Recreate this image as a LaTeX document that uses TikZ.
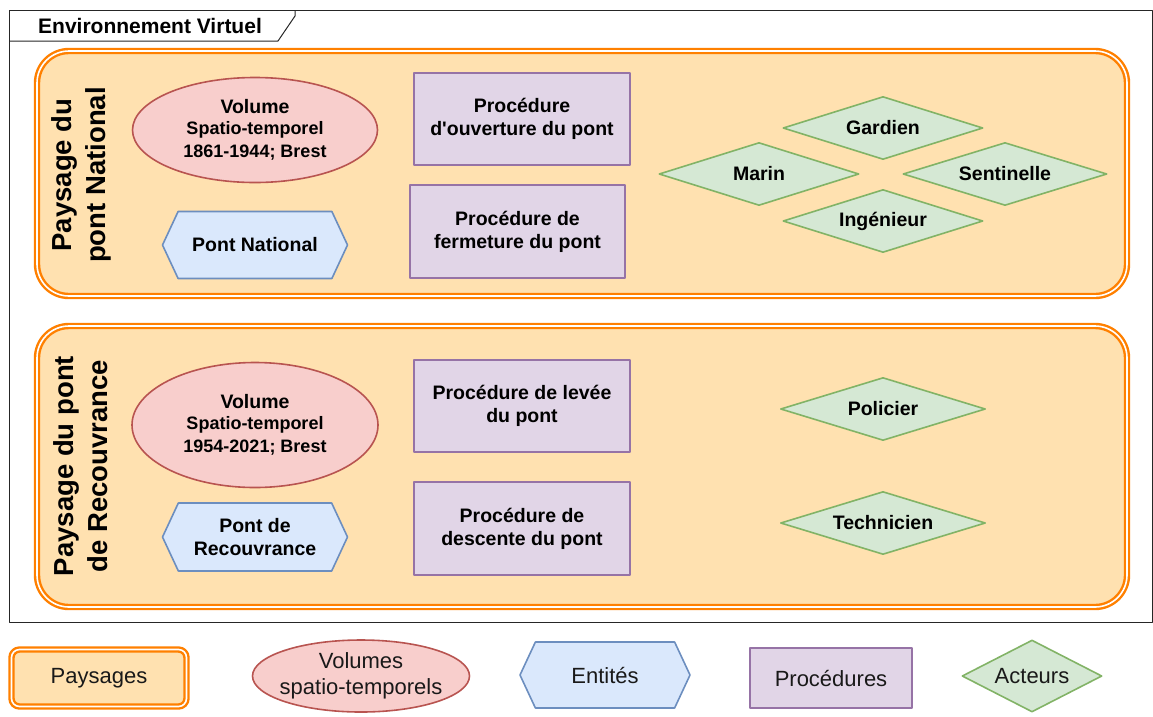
\documentclass[tikz,border=0pt]{standalone}
\usepackage{fontspec}
\setmainfont{Liberation Sans}
\usetikzlibrary{shapes.geometric,shapes.symbols}

\definecolor{paysFill}{HTML}{FFE1B0}
\definecolor{paysDraw}{HTML}{FF8000}
\definecolor{volFill}{HTML}{F8CECC}
\definecolor{volDraw}{HTML}{B85450}
\definecolor{entFill}{HTML}{DAE8FC}
\definecolor{entDraw}{HTML}{6C8EBF}
\definecolor{procFill}{HTML}{E1D5E7}
\definecolor{procDraw}{HTML}{9673A6}
\definecolor{actFill}{HTML}{D5E8D4}
\definecolor{actDraw}{HTML}{82B366}

\begin{document}
\begin{tikzpicture}[
			x=1pt, y=-1pt,
			line join=round,
			frame/.style={draw=black!85, line width=1pt},
			lbl/.style={font=\fontsize{19.5}{23}\selectfont\bfseries, align=center, text=black},
			leg/.style={font=\fontsize{22}{26}\selectfont, align=center, text=black!90},
			paysage/.style={draw=paysDraw, fill=paysFill, double=white, double distance=1.6pt, line width=2.4pt},
			volume/.style={ellipse, draw=volDraw, fill=volFill, line width=1.6pt, inner sep=0pt},
			entite/.style={signal, signal to=west and east, signal pointer angle=130, draw=entDraw, fill=entFill, line width=1.6pt, inner sep=0pt},
			proc/.style={rectangle, draw=procDraw, fill=procFill, line width=1.6pt, inner sep=0pt},
			acteur/.style={diamond, aspect=3.2, draw=actDraw, fill=actFill, line width=1.6pt, inner sep=0pt, minimum width=200, minimum height=63},
			ptitle/.style={font=\fontsize{27.5}{34}\selectfont\bfseries, align=center, rotate=90},
		]
			\useasboundingbox (0,0) rectangle (1153,716);

			% cadre
			\draw[frame] (9.5,10.5) rectangle (1152.5,622);
			\draw[frame] (9.5,41) -- (278,41) -- (295,16) -- (295,10.5);
			\node[font=\fontsize{21}{25}\selectfont\bfseries] (env) at (150,25.5) {Environnement Virtuel};

			% paysages
			\node[paysage, rounded corners=32, minimum width=1090, minimum height=245] (paysNat) at (582,173.5) {};
			\node[paysage, rounded corners=32, minimum width=1090, minimum height=281] (paysRec) at (582,466.5) {};

			\node[ptitle] (tNat) at (81,175) {Paysage du\\pont National};
			\node[ptitle] (tRec) at (81,466) {Paysage du pont\\de Recouvrance};

			% pont National
			\node[volume, lbl, minimum width=245, minimum height=105] (volNat) at (255,130) {Volume\\[-2pt]\fontsize{18}{22}\selectfont Spatio-temporel\\\fontsize{18}{22}\selectfont 1861-1944; Brest};
			\node[entite, lbl, minimum width=185, minimum height=67] (pontNat) at (255,245) {Pont National};
			\node[proc, lbl, minimum width=216, minimum height=92] (procOuv) at (522,119) {Procédure\\d\textquotesingle ouverture du pont};
			\node[proc, lbl, minimum width=215, minimum height=93] (procFerm) at (517.5,231.5) {Procédure de\\fermeture du pont};
			\node[acteur, lbl] (gardien) at (883,128) {Gardien};
			\node[acteur, lbl] (marin) at (759,174) {Marin};
			\node[acteur, lbl, minimum width=204] (sentinelle) at (1005,174) {Sentinelle};
			\node[acteur, lbl] (ingenieur) at (883,221) {Ingénieur};

			% pont de Recouvrance
			\node[volume, lbl, minimum width=246, minimum height=125] (volRec) at (255,425) {Volume\\[-2pt]\fontsize{18}{22}\selectfont Spatio-temporel\\\fontsize{18}{22}\selectfont 1954-2021; Brest};
			\node[entite, lbl, minimum width=185, minimum height=68] (pontRec) at (255,537) {Pont de\\Recouvrance};
			\node[proc, lbl, minimum width=216, minimum height=92] (procLev) at (522,406) {Procédure de levée\\du pont};
			\node[proc, lbl, minimum width=216, minimum height=93] (procDesc) at (522,528.5) {Procédure de\\descente du pont};
			\node[acteur, lbl, minimum width=205] (policier) at (883,409) {Policier};
			\node[acteur, lbl, minimum width=205] (technicien) at (883,523) {Technicien};

			% legende
			\node[paysage, rounded corners=8, leg, minimum width=175, minimum height=57] (legPays) at (99,678) {Paysages};
			\node[volume, leg, inner xsep=-20pt, minimum width=217, minimum height=72] (legVol) at (361,676) {Volumes\\spatio-temporels};
			\node[entite, leg, minimum width=170, minimum height=66] (legEnt) at (605,675) {Entités};
			\node[proc, leg, minimum width=162, minimum height=60] (legProc) at (831,678) {Procédures};
			\node[acteur, leg, aspect=2, minimum width=140, minimum height=72] (legAct) at (1032,676) {Acteurs};
		\end{tikzpicture}
\end{document}
